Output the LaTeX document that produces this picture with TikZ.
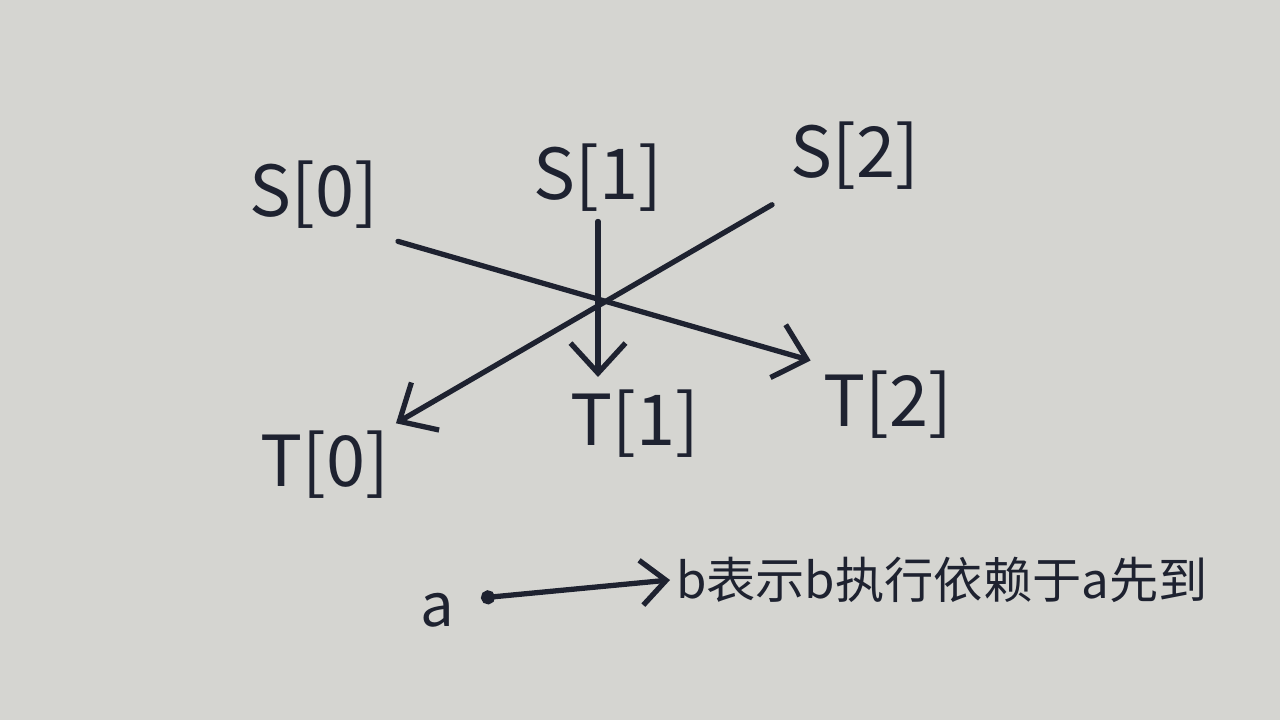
\documentclass[tikz,border=0pt]{standalone}
\usepackage{fontspec}
\newfontfamily\cjk{Noto Sans CJK SC}
\usetikzlibrary{arrows.meta}
\definecolor{ink}{RGB}{30,34,48}
\definecolor{paper}{RGB}{213,213,209}
\begin{document}
\begin{tikzpicture}
        [ink,line width=1.5pt,every node/.style={inner sep=2pt,
        font=\cjk\fontsize{20}{24}\selectfont},
        dep/.style={-{Straight Barb[length=3mm,width=5.5mm]},line cap=round}]
        \fill[paper] (0,0) rectangle (12.8,7.2);
        \useasboundingbox (0,0) rectangle (12.8,7.2);
        \node (s0) at (3.14,5.25) {S[0]};
        \node (s1) at (5.98,5.42) {S[1]};
        \node (s2) at (8.55,5.64) {S[2]};
        %%
        \node (t0) at (3.25,2.55) {T[0]};
        \node (t1) at (6.35,2.96) {T[1]};
        \node (t2) at (8.88,3.15) {T[2]};
        %%
        \path
        \foreach \startNode/\endNode/\gap in {s0.south east/t2.north west/1pt,
          s2.south west/t0.north east/-1pt}
        {
          (\startNode) edge[dep,shorten <=3pt,shorten >=\gap] (\endNode)
        };
        \draw[dep,shorten >=1pt] (s1.south) -- (s1.south |- t1.north);
        %%
        \node[font=\cjk\fontsize{17}{20}\selectfont] (a) at (4.37,1.10) {a};
        \coordinate (adot) at (4.81,1.22);
        \node[anchor=west,inner sep=1pt,font=\cjk\fontsize{14}{17}\selectfont]
          (note) at (6.70,1.40) {b表示b执行依赖于a先到};
        \draw[{Circle[length=1.4mm]}-{Straight Barb[length=2.5mm,width=4.5mm]},
          line cap=round] (adot) -- (note.west);
        \end{tikzpicture}
\end{document}
